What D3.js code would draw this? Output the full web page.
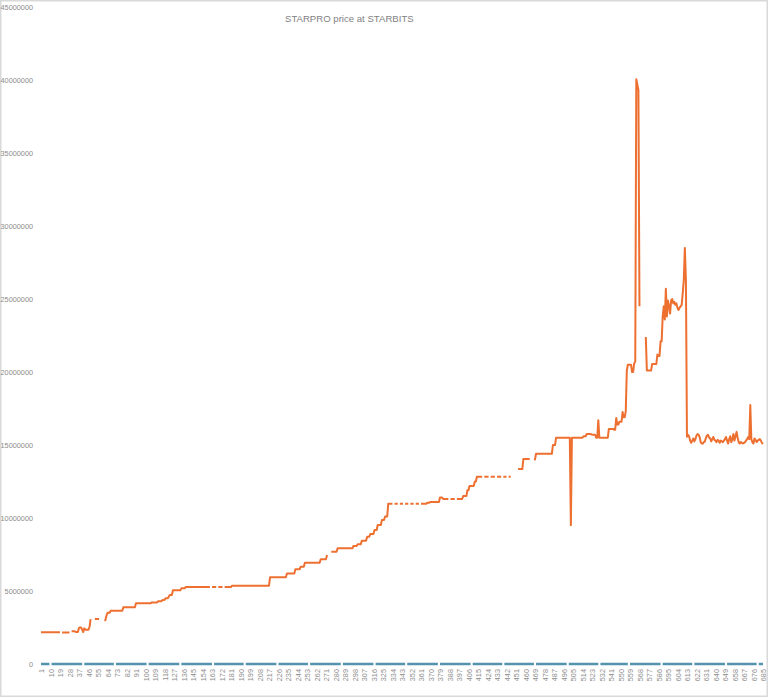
<!DOCTYPE html>
<html>
<head>
<meta charset="utf-8">
<script src="https://cdn.jsdelivr.net/npm/d3@7"></script>
<style>
  html, body { margin: 0; padding: 0; background: #fff; }
  svg { display: block; }
</style>
</head>
<body>
<script>
// ---- DATA ----
const chartTitle = "STARPRO price at STARBITS";

// STARPRO price in millions, as runs of [value, number of consecutive days]; null = gap
const priceRuns = [
  [2.17,19],[null,1],[2.15,8],[null,1],[2.24,4],[2.2,3],[2.47,1],[2.5,2],[2.35,1],[2.19,1],
  [2.44,1],[2.35,4],[2.55,1],[3.08,1],[null,3],[3.08,5],[null,4],[3.0,2],[3.3,1],[3.51,3],
  [3.65,12],[3.88,12],[4.16,15],[4.22,6],[4.3,4],[4.38,3],[4.5,3],[4.6,1],[4.72,3],[5.05,8],
  [5.18,4],[5.27,24],[null,1],[5.27,5],[null,1],[5.27,5],[null,1],[5.27,7],[5.36,36],[5.94,16],
  [6.2,8],[6.49,5],[6.66,4],[6.94,15],[7.17,6],[7.47,1],[null,3],[7.69,6],[7.92,15],[8.08,4],
  [8.2,4],[8.45,5],[8.72,3],[8.9,4],[9.18,3],[9.52,4],[9.86,3],[10.1,3],
  [10.98,5],[null,1],[10.98,4],[null,1],[10.98,4],[null,1],[10.98,4],[null,1],[10.98,4],[null,1],
  [10.98,4],[null,1],[10.98,6],[11.05,3],[11.1,9],[11.4,3],[11.3,6],[null,1],[11.3,5],[null,1],
  [11.3,6],[11.5,4],[11.9,2],[12.2,5],[12.5,2],[12.83,6],[null,1],[12.83,5],[null,1],[12.83,5],
  [null,1],[12.83,5],[null,1],[12.83,4],[null,1],[12.83,3],[null,6],[13.35,5],[14.04,7],[null,3],
  [14.0,2],[14.4,16],[15.0,3],[15.5,14],[9.5,1],[15.5,11],[15.6,3],[15.75,5],[15.7,4],[15.5,2],
  [16.7,1],[15.5,9],[16.1,5],[16.05,2],[16.85,1],[16.4,2],[16.6,3],[17.26,1],[16.9,2],[17.3,1],
  [20.1,1],[20.5,4],[20.0,2],[20.6,1],[20.7,1],[40.05,1],[39.7,1],[39.3,1],[24.5,1],[null,5],
  [22.4,1],[20.1,5],[20.55,5],[21.2,1],[21.1,2],[22.1,2],[23.8,1],[24.5,1],[23.6,1],[25.7,1],
  [23.8,1],[24.9,1],[24.5,1],[24.0,1],[24.9,1],[25.0,1],[24.7,1],[24.8,1],[24.6,1],[24.7,1],
  [24.4,1],[24.25,1],[24.4,1],[24.5,1],[24.6,1],[25.4,1],[26.3,1],[28.5,1],[26.3,1],[15.57,1]
];
// last days, one value each (millions)
const priceTail = [
  15.7,15.6,15.3,15.15,15.3,15.45,15.25,15.4,15.65,15.75,
  15.7,15.55,15.2,15.1,15.1,15.2,15.25,15.5,15.65,15.7,
  15.5,15.45,15.25,15.4,15.55,15.35,15.3,15.2,15.35,15.3,
  15.15,15.3,15.25,15.2,15.3,15.4,15.55,15.3,15.1,15.4,
  15.6,15.2,15.4,15.75,15.3,15.6,15.9,15.5,15.2,15.1,
  15.2,15.15,15.1,15.15,15.2,15.3,15.4,15.55,15.4,17.74,
  15.4,15.2,15.1,15.45,15.35,15.2,15.3,15.35,15.4,15.3,
  15.15,15.07
];
// second series (near zero), as runs of [value, count]; null = gap
const secondRuns = [
  [0,9],[null,1],[0,30],[null,1],[0,29],[null,1],[0,30],[null,1],[0,30],[null,1],[0,30],[null,1],
  [0,29],[null,1],[0,30],[null,1],[0,29],[null,1],[0,30],[null,1],[0,30],[null,1],[0,29],[null,1],
  [0,30],[null,1],[0,30],[null,1],[0,29],[null,1],[0,29],[null,1],[0,30],[null,1],[0,29],[null,1],
  [0,27],[null,1],[0,30],[null,1],[0,29],[null,1],[0,30],[null,1],[0,29],[null,1],[0,5]
];
const yTicks = [0,5000000,10000000,15000000,20000000,25000000,30000000,35000000,40000000,45000000];

// ---- decode runs ----
const expand = runs => runs.flatMap(([v, n]) => Array(n).fill(v === null ? null : v * 1e6));
const price = expand(priceRuns).concat(priceTail.map(v => v * 1e6));
const second = expand(secondRuns);
const n = Math.max(price.length, second.length);
const categories = d3.range(1, n + 1);
const xTickLabels = categories.filter(c => (c - 1) % 9 === 0);

// ---- layout ----
const W = 768, H = 697;
const svg = d3.select("body").append("svg").attr("width", W).attr("height", H);

svg.append("rect").attr("x", 0.75).attr("y", 0.75).attr("width", W - 1.5).attr("height", H - 1.5)
  .attr("fill", "#fff").attr("stroke", "#d9d9d9").attr("stroke-width", 1.5);

const x = d3.scalePoint().domain(categories).range([41, 41 + (n - 1) * 1.0555]);
const y = d3.scaleLinear().domain([0, 45000000]).range([664, 7]);

// y axis
const yAxis = svg.append("g").attr("transform", "translate(36,0)")
  .call(d3.axisLeft(y).tickValues(yTicks).tickSize(0).tickPadding(3).tickFormat(d3.format("d")));
yAxis.select(".domain").remove();
yAxis.selectAll("text").attr("fill", "#8c8c8c").style("font-family", "'Liberation Sans', Arial, sans-serif").style("font-size", "7.3px");

// x axis
const xAxis = svg.append("g").attr("transform", "translate(0,664)")
  .call(d3.axisBottom(x).tickValues(xTickLabels).tickSize(0));
xAxis.select(".domain").remove();
xAxis.selectAll("text")
  .attr("transform", "rotate(-90)")
  .attr("x", -5).attr("y", 0).attr("dy", "0.35em")
  .attr("text-anchor", "end")
  .attr("fill", "#8c8c8c")
  .style("font-family", "'Liberation Sans', Arial, sans-serif").style("font-size", "7.3px");

// lines
const line = d3.line().defined(d => d.v !== null).x(d => x(d.c)).y(d => y(d.v));

svg.append("path")
  .datum(second.map((v, i) => ({ c: categories[i], v })))
  .attr("fill", "none").attr("stroke", "#5493ad").attr("stroke-width", 2.3)
  .attr("d", line);

svg.append("path")
  .datum(price.map((v, i) => ({ c: categories[i], v })))
  .attr("fill", "none").attr("stroke", "#ed7031").attr("stroke-width", 2)
  .attr("stroke-linejoin", "round")
  .attr("d", line);

// title
svg.append("text").attr("x", 285).attr("y", 22)
  .attr("fill", "#7f7f7f")
  .style("font-family", "'Liberation Sans', Arial, sans-serif").style("font-size", "9.6px")
  .text(chartTitle);
</script>
</body>
</html>
